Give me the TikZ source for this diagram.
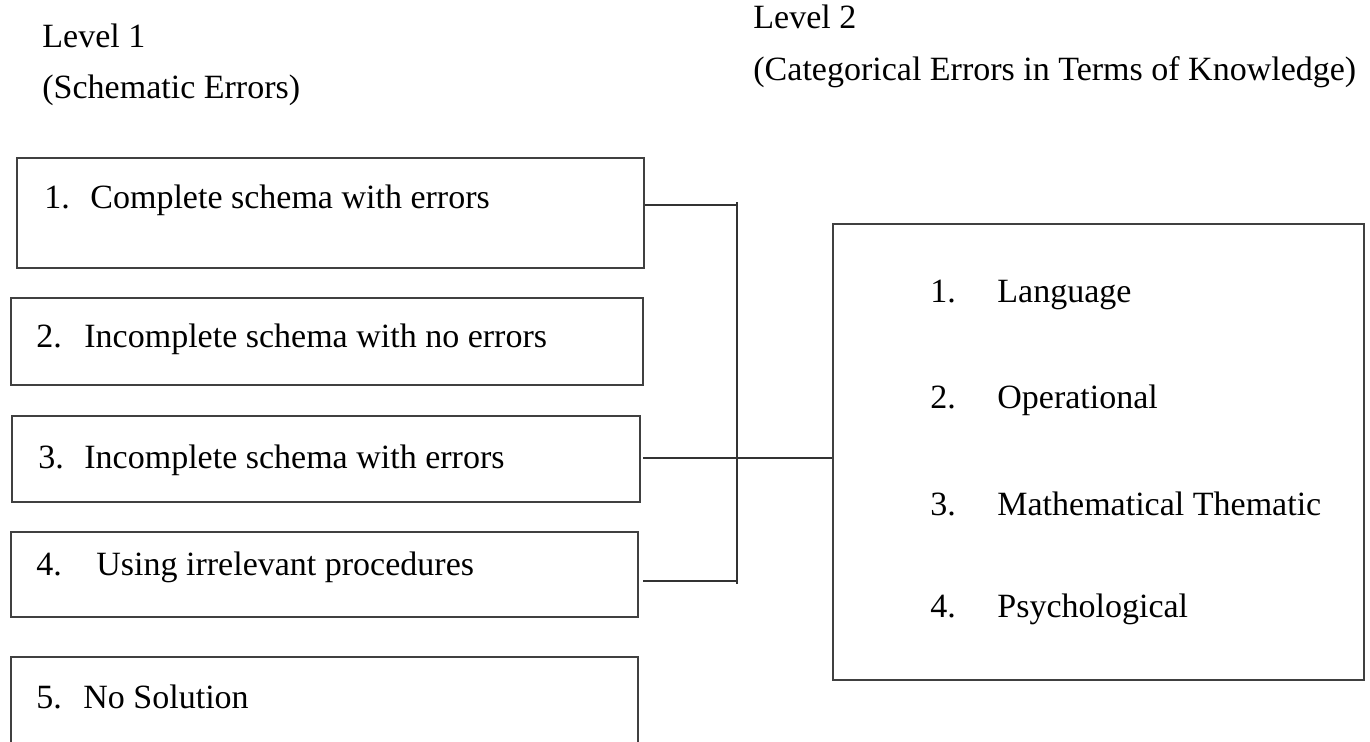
\documentclass[tikz,border=0pt]{standalone}
\usepackage{fontspec}
\setmainfont{Liberation Serif}
\usetikzlibrary{fit}
\tikzset{
    errbox/.style={draw=black!75, line width=1pt, inner sep=0pt},
    lbl/.style={anchor=base west, inner sep=0pt, font=\fontsize{17}{20}\selectfont},
    link/.style={draw=black!80, line width=0.9pt}
}
\begin{document}
\begin{tikzpicture}[x=0.5pt,y=-0.5pt]
        \clip (0,0) rectangle (1370,741);

        \node[lbl] (lvone) at (42,47) {Level 1};
        \node[lbl] (lvonesub) at (42,98) {(Schematic Errors)};
        \node[lbl] (lvtwo) at (753,28) {Level 2};
        \node[lbl] (lvtwosub) at (753,80) {(Categorical Errors in Terms of Knowledge)};

        \node[errbox, fit={(17,158) (644,268)}] (b1) {};
        \node[errbox, fit={(11,298) (643,385)}] (b2) {};
        \node[errbox, fit={(12,416) (640,502)}] (b3) {};
        \node[errbox, fit={(11,532) (638,617)}] (b4) {};
        \node[errbox, fit={(11,657) (638,790)}] (b5) {};

        \node[lbl] (n1) at (44,208) {1.};
        \node[lbl] (t1) at (90,208) {Complete schema with errors};
        \node[lbl] (n2) at (36,347) {2.};
        \node[lbl] (t2) at (84,347) {Incomplete schema with no errors};
        \node[lbl] (n3) at (38,468) {3.};
        \node[lbl] (t3) at (84,468) {Incomplete schema with errors};
        \node[lbl] (n4) at (36,575) {4.};
        \node[lbl] (t4) at (96,575) {Using irrelevant procedures};
        \node[lbl] (n5) at (36,708) {5.};
        \node[lbl] (t5) at (83,708) {No Solution};

        \node[errbox, fit={(833,224) (1364,680)}] (kn) {};

        \node[lbl] (k1) at (930,302) {1.};
        \node[lbl] (kt1) at (997,302) {Language};
        \node[lbl] (k2) at (930,408) {2.};
        \node[lbl] (kt2) at (997,408) {Operational};
        \node[lbl] (k3) at (930,515) {3.};
        \node[lbl] (kt3) at (997,515) {Mathematical Thematic};
        \node[lbl] (k4) at (930,617) {4.};
        \node[lbl] (kt4) at (997,617) {Psychological};

        \coordinate (jtop) at (737,202);
        \coordinate (jbot) at (737,584);
        \coordinate (s3) at (643,458);
        \coordinate (s4) at (643,581);

        \draw[link] (jtop) -- (jbot);
        \draw[link] (b1.east |- 0,205) -- (737,205);
        \draw[link] (s3) -- (s3 -| kn.west);
        \draw[link] (s4) -- (s4 -| jtop);

    \end{tikzpicture}
\end{document}
